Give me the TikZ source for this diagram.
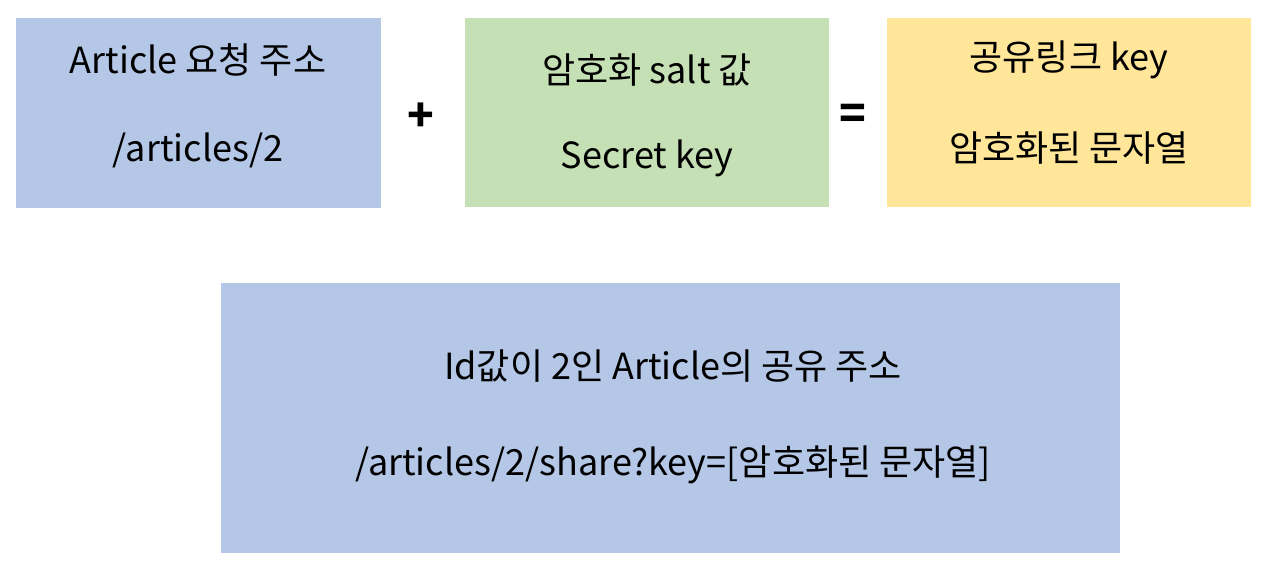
\documentclass[tikz,border=0pt]{standalone}
\usepackage{fontspec}
\setmainfont{Noto Sans CJK KR}
\definecolor{boxblue}{HTML}{B4C7E7}
\definecolor{boxgreen}{HTML}{C5E0B4}
\definecolor{boxyellow}{HTML}{FFE699}
\begin{document}
\begin{tikzpicture}[x=1pt,y=-1pt,
  box/.style={anchor=north west,inner sep=0pt,outer sep=0pt},
  txt/.style={font=\fontsize{36}{42}\selectfont,inner sep=0pt,anchor=center},
  op/.style={font=\fontsize{44}{48}\selectfont\bfseries,inner sep=0pt}]
\useasboundingbox (0,0) rectangle (1264,566);
\fill[white] (0,0) rectangle (1264,566);
\node[box,fill=boxblue,minimum width=365pt,minimum height=190pt] (b1) at (16,18) {};
\node[box,fill=boxgreen,minimum width=364pt,minimum height=189pt] (b2) at (465,18) {};
\node[box,fill=boxyellow,minimum width=364pt,minimum height=189pt] (b3) at (887,18) {};
\node[box,fill=boxblue,minimum width=899pt,minimum height=270pt] (b4) at (221,283) {};
\node[txt] (t1a) at (198,60) {Article 요청 주소};
\node[txt] (t1b) at (198,150) {/articles/2};
\node[txt] (t2a) at (647,70) {암호화 salt 값};
\node[txt] (t2b) at (647,158) {Secret key};
\node[txt] (t3a) at (1069,60) {공유링크 key};
\node[txt] (t3b) at (1069,148) {암호화된 문자열};
\node[txt] (t4a) at (673,366) {Id값이 2인 Article의 공유 주소};
\node[txt] (t4b) at (673,465) {/articles/2/share?key=[암호화된 문자열]};
\node[op] (plus) at (421,117) {+};
\node[op] (eq) at (853,117) {=};
\end{tikzpicture}
\end{document}
